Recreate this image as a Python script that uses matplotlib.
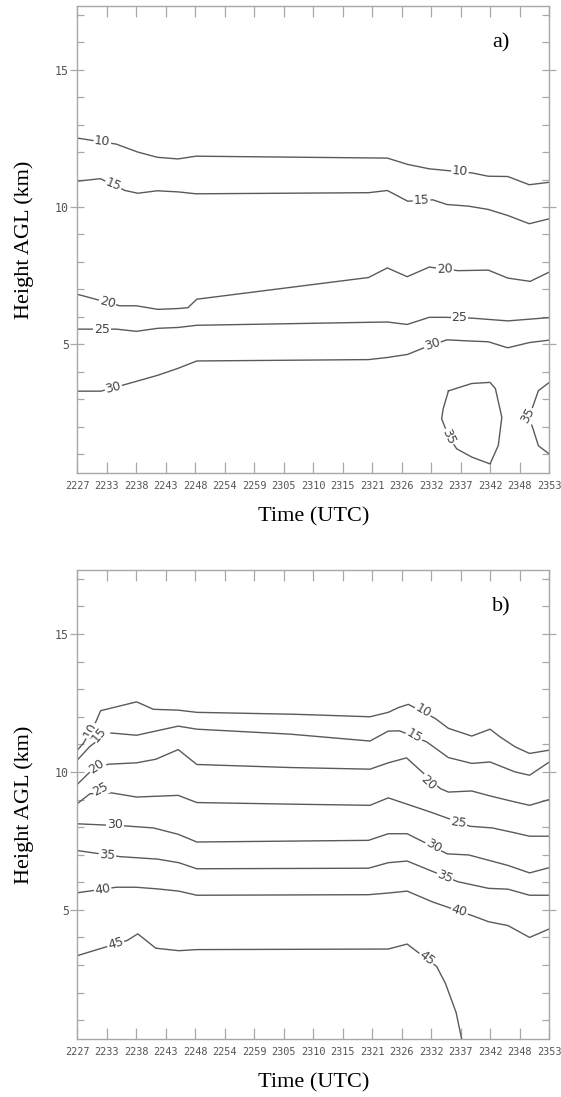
import matplotlib
matplotlib.use("Agg")
import matplotlib.pyplot as plt
from matplotlib.ticker import MultipleLocator, FixedLocator

# ---------------- data ----------------
time_labels = ["2227", "2233", "2238", "2243", "2248", "2254", "2259", "2305", "2310",
               "2315", "2321", "2326", "2332", "2337", "2342", "2348", "2353"]

# Panel a) contour lines: x = time index, y = height (km)
a10_x = [0, 1.32, 2.05, 2.71, 3.41, 4.02, 10.51, 11.2, 11.93, 13.38, 13.93, 14.59, 15.32, 16]
a10_y = [12.51, 12.29, 12.0, 11.81, 11.75, 11.85, 11.78, 11.55, 11.39, 11.24, 11.12, 11.11, 10.81, 10.9]
a15_x = [0, 0.78, 1.62, 2.05, 2.71, 3.41, 4.02, 9.87, 10.51, 11.2, 12.05, 12.53, 13.26, 13.93, 14.59, 15.32, 16]
a15_y = [10.94, 11.03, 10.6, 10.5, 10.59, 10.55, 10.48, 10.52, 10.6, 10.21, 10.26, 10.09, 10.03, 9.91, 9.69, 9.39, 9.57]
a20_x = [0, 1.44, 2.0, 2.73, 3.41, 3.75, 4.05, 9.87, 10.51, 11.18, 11.93, 12.9, 13.93, 14.59, 15.35, 16]
a20_y = [6.82, 6.40, 6.40, 6.27, 6.30, 6.33, 6.64, 7.43, 7.78, 7.46, 7.81, 7.68, 7.70, 7.41, 7.29, 7.63]
a25_x = [0, 1.32, 2.0, 2.73, 3.41, 4.05, 10.51, 11.18, 11.93, 12.47, 13.38, 14.59, 16]
a25_y = [5.55, 5.55, 5.47, 5.58, 5.61, 5.69, 5.81, 5.72, 5.98, 5.98, 5.95, 5.85, 5.97]
a30_x = [0, 0.8, 1.68, 2.73, 3.41, 4.05, 9.87, 10.53, 11.2, 11.68, 12.53, 13.26, 13.93, 14.59, 15.32, 16]
a30_y = [3.29, 3.29, 3.55, 3.87, 4.12, 4.39, 4.44, 4.52, 4.63, 4.84, 5.16, 5.12, 5.09, 4.87, 5.06, 5.15]
a35_loop_x = [12.58, 13.37, 13.99, 14.17, 14.39, 14.27, 13.99, 13.37, 12.86, 12.6, 12.35, 12.4, 12.58]
a35_loop_y = [3.30, 3.57, 3.61, 3.39, 2.34, 1.31, 0.64, 0.89, 1.19, 1.61, 2.28, 2.64, 3.30]
a35_edge_x = [16, 15.63, 15.45, 15.3, 15.45, 15.63, 16]
a35_edge_y = [3.61, 3.31, 2.76, 2.35, 1.91, 1.3, 1.0]

# Panel b) contour lines
b10_x = [0, 0.2, 0.63, 0.79, 2.01, 2.58, 3.42, 4.05, 7.38, 9.92, 10.54, 10.88, 11.22, 12.13, 12.58, 13.37, 13.99, 14.33, 14.84, 15.33, 16]
b10_y = [10.79, 11.03, 11.82, 12.22, 12.54, 12.27, 12.24, 12.16, 12.09, 12.0, 12.16, 12.33, 12.45, 11.94, 11.58, 11.30, 11.55, 11.27, 10.91, 10.67, 10.79]
b15_x = [0, 0.43, 1.05, 2.01, 3.42, 4.05, 7.21, 9.92, 10.54, 10.92, 11.84, 12.58, 13.37, 13.99, 14.84, 15.33, 16]
b15_y = [10.43, 10.93, 11.42, 11.33, 11.66, 11.55, 11.37, 11.12, 11.48, 11.49, 11.09, 10.52, 10.31, 10.36, 10.0, 9.88, 10.36]
b20_x = [0, 0.43, 1.05, 2.01, 2.66, 3.42, 4.05, 7.21, 9.92, 10.54, 11.16, 11.5, 12.3, 12.58, 13.37, 13.99, 14.84, 15.33, 16]
b20_y = [9.55, 10.0, 10.28, 10.33, 10.46, 10.81, 10.27, 10.16, 10.1, 10.33, 10.51, 10.18, 9.4, 9.27, 9.31, 9.13, 8.91, 8.79, 9.0]
b25_x = [0, 0.43, 1.16, 2.01, 3.42, 4.05, 7.38, 9.92, 10.54, 11.96, 13.31, 14.07, 14.84, 15.33, 16]
b25_y = [8.85, 9.21, 9.24, 9.09, 9.15, 8.89, 8.83, 8.79, 9.06, 8.55, 8.03, 7.97, 7.79, 7.67, 7.67]
b30_x = [0, 1.67, 2.58, 3.42, 4.05, 9.87, 10.54, 11.18, 12.54, 13.27, 14.6, 15.33, 16]
b30_y = [8.12, 8.04, 7.97, 7.74, 7.46, 7.52, 7.76, 7.76, 7.03, 6.99, 6.61, 6.34, 6.53]
b35_x = [0, 1.44, 2.72, 3.44, 4.05, 9.87, 10.54, 11.18, 12.9, 13.94, 14.6, 15.33, 16]
b35_y = [7.15, 6.93, 6.84, 6.71, 6.49, 6.51, 6.71, 6.77, 6.02, 5.78, 5.75, 5.53, 5.53]
b40_x = [0, 1.32, 1.99, 2.72, 3.44, 4.05, 9.87, 10.54, 11.18, 12.06, 13.39, 13.94, 14.6, 15.33, 16]
b40_y = [5.62, 5.82, 5.82, 5.76, 5.68, 5.53, 5.55, 5.61, 5.68, 5.28, 4.79, 4.57, 4.43, 4.0, 4.31]
b45_x = [0, 1.69, 2.05, 2.66, 3.44, 4.05, 10.54, 11.18, 12.18, 12.48, 12.84, 13.03]
b45_y = [3.34, 3.89, 4.13, 3.61, 3.52, 3.56, 3.58, 3.76, 2.95, 2.33, 1.28, 0.31]

# contour labels: (text, x, y, rotation)
a_labels = [("10", 0.85, 12.38, -6), ("10", 12.97, 11.29, -5),
            ("15", 1.22, 10.80, -22), ("15", 11.67, 10.24, 2),
            ("20", 1.02, 6.52, -14), ("20", 12.46, 7.74, 3),
            ("25", 0.84, 5.55, 0), ("25", 12.95, 5.97, 0),
            ("30", 1.22, 3.43, 14), ("30", 12.03, 5.00, 18),
            ("35", 12.58, 1.62, -65), ("35", 15.27, 2.40, 62)]
b_labels = [("10", 0.45, 11.49, 62), ("15", 0.75, 11.36, 50),
            ("20", 0.65, 10.20, 35), ("25", 0.80, 9.38, 28),
            ("30", 1.28, 8.10, 0), ("35", 1.02, 6.98, -4),
            ("40", 0.86, 5.74, 8), ("45", 1.30, 3.77, 16),
            ("10", 11.72, 12.20, -30), ("15", 11.42, 11.30, -30),
            ("20", 11.90, 9.62, -42), ("25", 12.92, 8.15, -8),
            ("30", 12.07, 7.30, -30), ("35", 12.46, 6.20, -22),
            ("40", 12.95, 4.95, -16), ("45", 11.85, 3.25, -38)]

panel_a_lines = [(a10_x, a10_y), (a15_x, a15_y), (a20_x, a20_y), (a25_x, a25_y),
                 (a30_x, a30_y), (a35_loop_x, a35_loop_y), (a35_edge_x, a35_edge_y)]
panel_b_lines = [(b10_x, b10_y), (b15_x, b15_y), (b20_x, b20_y), (b25_x, b25_y),
                 (b30_x, b30_y), (b35_x, b35_y), (b40_x, b40_y), (b45_x, b45_y)]

# ---------------- figure ----------------
fig = plt.figure(figsize=(5.61, 10.97), dpi=100)
left, width = 0.1378, 0.8414
ax_a = fig.add_axes([left, 0.5691, width, 0.4254])
ax_b = fig.add_axes([left, 0.0529, width, 0.4275])

line_color = "#5a5a5a"
spine_color = "#a8a8a8"
xtick_font = {"family": "DejaVu Sans Mono", "size": 7.4, "color": "#555555"}
ytick_font = {"family": "DejaVu Sans Mono", "size": 8.4, "color": "#555555"}

def style(ax, letter):
    ax.set_xlim(0, 16)
    ax.set_ylim(0.32, 17.32)
    for s in ax.spines.values():
        s.set_color(spine_color)
        s.set_linewidth(1.0)
    ax.xaxis.set_major_locator(FixedLocator(range(len(time_labels))))
    ax.set_xticklabels(time_labels, fontdict=xtick_font)
    ax.tick_params(axis="x", which="major", direction="in", length=8, width=0.9,
                   color=spine_color, top=True, bottom=True, pad=6)
    ax.yaxis.set_major_locator(FixedLocator([5, 10, 15]))
    ax.yaxis.set_minor_locator(MultipleLocator(1))
    ax.set_yticklabels(["5", "10", "15"], fontdict=ytick_font)
    ax.tick_params(axis="y", which="major", direction="inout", length=10, width=0.9,
                   color=spine_color, left=True, right=True, pad=1)
    ax.tick_params(axis="y", which="minor", direction="in", length=5, width=0.9,
                   color=spine_color, left=True, right=True)
    ax.set_xlabel("Time (UTC)", family="Liberation Serif", fontsize=16)
    ax.xaxis.set_label_coords(0.5, -0.074)
    ax.set_ylabel("Height AGL (km)", family="Liberation Serif", fontsize=16)
    ax.yaxis.set_label_coords(-0.092, 0.5)
    ax.text(0.898, 0.921, letter, transform=ax.transAxes, family="Liberation Serif",
            fontsize=16, ha="center", va="center")

for ax, lines, labels, letter in [(ax_a, panel_a_lines, a_labels, "a)"),
                                  (ax_b, panel_b_lines, b_labels, "b)")]:
    style(ax, letter)
    for xs, ys in lines:
        ax.plot(xs, ys, color=line_color, lw=1.0, zorder=2)
    for txt, x, y, rot in labels:
        ax.text(x, y, txt, rotation=rot, rotation_mode="anchor", ha="center", va="center",
                fontsize=9, color="#444444", family="DejaVu Sans", zorder=3,
                bbox=dict(facecolor="white", edgecolor="none", pad=0.6))

fig.savefig("out.png", dpi=100)
